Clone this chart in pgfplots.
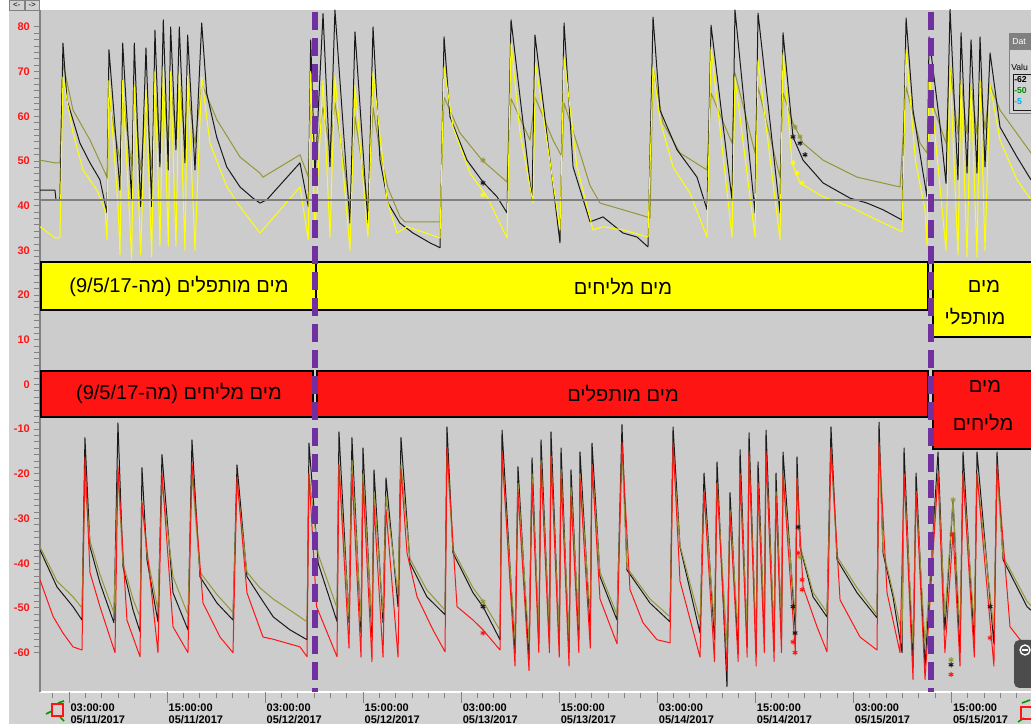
\documentclass[border=0pt]{standalone}
\usepackage{fontspec}
\setmainfont{Liberation Sans}
\newfontfamily\hebfont[Script=Hebrew]{Liberation Sans}
\TeXXeTstate=1
\usepackage{pgfplots}
\pgfplotsset{compat=1.18}

\definecolor{plotgray}{RGB}{204,204,204}
\definecolor{panelgray}{RGB}{210,210,210}
\definecolor{blk}{RGB}{25,25,25}
\definecolor{oliv}{RGB}{150,150,55}
\definecolor{yel}{RGB}{255,255,0}
\definecolor{rd}{RGB}{255,20,20}
\definecolor{purp}{RGB}{112,48,160}
\definecolor{tickgray}{RGB}{130,130,130}
\definecolor{hline}{RGB}{128,128,128}

\newcommand{\tfont}{\fontsize{8.25}{8.7}\selectfont\bfseries}
\newcommand{\hfont}{\hebfont\fontsize{15}{18}\selectfont}

\begin{document}
\begin{tikzpicture}
\useasboundingbox (-30pt,-24pt) rectangle (743.25pt,519pt);
\clip (-30pt,-24pt) rectangle (743.25pt,519pt);
% window frame, in screen pixels from the top-left corner
\begin{scope}[x=0.75pt,y=-0.75pt,shift={(-30pt,519pt)}]
  \fill[panelgray] (0,0) rectangle (1031,724);
  \fill[white] (0,0) rectangle (1031,10);
  \fill[white] (0,0) rectangle (9,724);
\end{scope}

\begin{axis}[
  at={(0,0)}, anchor=south west, scale only axis,
  width=743.25pt, height=511.5pt,
  xmin=-0.55, xmax=120.74, ymin=-68.8, ymax=83.8,
  axis background/.style={fill=plotgray},
  axis lines*=left,
  x axis line style={white, line width=1.5pt},
  y axis line style={tickgray, line width=2pt},
  tick align=outside,
  tick style={tickgray, line width=0.75pt},
  major tick length=4.5pt, minor tick length=4.5pt,
  xtick={1,3,...,119}, xticklabels={},
  extra x ticks={3,15,...,111},
  extra x tick labels={{03:00:00\\05/11/2017},{15:00:00\\05/11/2017},
    {03:00:00\\05/12/2017},{15:00:00\\05/12/2017},{03:00:00\\05/13/2017},
    {15:00:00\\05/13/2017},{03:00:00\\05/14/2017},{15:00:00\\05/14/2017},
    {03:00:00\\05/15/2017},{15:00:00\\05/15/2017}},
  extra x tick style={major tick length=8.25pt,
    tick label style={font=\tfont, anchor=north west, align=left,
      inner sep=0pt, xshift=1pt, yshift=-0.75pt}},
  ytick={-60,-50,...,80},
  yticklabels={-60,-50,-40,-30,-20,-10,0,10,20,30,40,50,60,70,80},
  minor y tick num=6,
  yticklabel style={font=\tfont, text=rd, anchor=east, inner sep=0pt, xshift=-3pt},
  every axis plot/.append style={line width=0.75pt, line join=round},
]

% upper group
\addplot[oliv] coordinates {
(-0.55,50.2) (1.28,49.6) (1.89,49.6) (2.26,71.9) (3.49,61.4) (5.57,54.7) (7.65,46.4)
(7.89,64) (9.24,50) (9.57,64) (10.67,49) (10.99,64) (11.77,48) (12.42,63) (13.12,48)
(13.52,66) (14.13,54) (14.54,67) (15.15,54) (15.44,67) (16.09,56) (16.50,67) (17.19,55)
(17.52,66) (18.42,54) (19.24,67) (19.40,66.6) (21.11,59.2) (23.93,50.9) (26.37,47.3)
(26.74,46.4) (31.27,51.4) (32.29,46.4) (32.58,65) (33.11,50) (34.09,62) (34.94,52)
(35.55,63) (37.39,40) (38.00,60) (39.59,40) (40.21,62) (41.06,52) (42.04,44) (43.51,37.5)
(44.12,36.4) (48.41,36.4) (48.90,64.3) (50.85,56.3) (53.55,50.2) (56.61,45.3) (57.10,64)
(59.42,54.7) (60.03,64.3) (62.24,54.7) (63.34,50.9) (63.59,63) (65.54,51.8) (66.77,44.5)
(67.99,40.6) (70.80,39.1) (74.11,37.3) (74.48,71) (75.70,58.5) (77.78,51.8) (81.09,48.0)
(81.58,65.2) (84.15,54.0) (84.51,69.7) (86.96,51.8) (87.33,66.6) (90.02,46.4) (90.39,65.2)
(91.61,58.5) (92.84,54.0) (95.29,50.2) (99.45,46.4) (104.71,44.2) (105.45,66.6)
(107.16,54.0) (108.01,51.8) (108.26,65) (110.34,54) (110.83,71) (111.80,56) (112.18,68)
(112.91,56) (113.40,67) (114.13,56) (114.50,68) (115.11,57) (115.73,67) (116.95,61.4)
(120.74,51.8)
};
\addplot[blk] coordinates {
(-0.55,43.5) (1.28,43.5) (1.41,41.3) (1.89,41.3) (2.26,76.4) (2.75,63.7) (4.34,54.0)
(5.57,49.6) (6.79,45.8) (7.65,38.4) (7.89,74.9) (9.24,43.5) (9.57,76.4) (10.67,41.3)
(10.99,76.4) (11.77,39.8) (12.42,75.3) (13.12,39.8) (13.52,79.3) (14.13,48.7) (14.54,81.6)
(15.15,48.0) (15.44,80.0) (16.09,52.5) (16.50,80.0) (17.19,49.6) (17.52,78.2) (18.42,48.0)
(19.24,80.9) (19.85,65.2) (21.07,55.4) (22.30,48.7) (23.93,44.2) (25.52,41.7) (26.37,40.6)
(27.19,41.3) (31.27,49.6) (32.29,39.8) (32.58,77.1) (33.11,46.4) (34.09,83.0) (34.94,48.7)
(35.55,83.8) (37.39,36.1) (38.00,78.9) (39.59,36.1) (40.21,80.0) (41.06,50.2) (42.04,40.6)
(43.51,36.1) (45.10,33.9) (47.18,31.7) (48.41,30.6) (48.90,77.8) (49.63,59.9) (51.71,50.2)
(53.67,45.3) (55.39,42.0) (56.61,38.4) (57.10,81.6) (59.67,41.3) (60.03,78.2) (63.09,31.7)
(63.59,80.9) (64.69,48.7) (66.77,36.4) (68.36,37.5) (70.80,33.9) (72.52,33.0) (73.86,30.8)
(74.48,82.2) (75.33,61.4) (77.42,52.5) (79.86,46.4) (81.09,39.1) (81.58,80.4) (84.15,41.3)
(84.51,83.8) (86.96,38.4) (87.33,83.1) (90.02,38.4) (90.39,78.7) (91.61,55.4) (92.84,50.2)
(95.29,45.1) (98.59,41.7) (100.67,40.6) (102.63,39.1) (104.96,36.8) (105.45,82.0)
(106.30,61.4) (107.53,47.3) (108.01,42.0) (108.26,77.8) (109.6,58.0) (110.34,45.0)
(110.83,84.0) (111.80,45.8) (112.18,78.7) (112.91,47.3) (113.40,77.1) (114.13,47.3)
(114.50,77.8) (115.11,48.7) (115.73,74.2) (116.95,57.6) (119.03,50.9) (120.74,45.8)
};
\addplot[yel] coordinates {
(-0.55,35.3) (1.28,32.8) (1.89,32.8) (2.26,68.8) (3.49,56.3) (4.71,48.0) (6.42,43.5)
(7.40,39.1) (7.65,32.4) (7.89,68) (9.0,40) (9.24,29) (9.57,68) (10.67,28) (10.99,67)
(11.77,29) (12.42,66) (13.12,28.5) (13.52,70) (14.13,31) (14.54,71) (15.15,31) (15.44,70)
(16.09,31) (16.50,70) (17.19,30) (17.52,69) (18.42,30) (19.24,68.8) (20.25,54.0)
(22.33,44.2) (23.93,39.8) (26.37,33.9) (31.27,44.2) (32.29,32.4) (32.58,70) (33.11,34)
(34.09,68) (34.94,33) (35.55,69) (37.39,30) (38.00,67) (39.59,33) (40.21,70) (41.92,41.3)
(43.14,33.9) (44.37,35.3) (48.41,32.8) (48.90,71.1) (50.0,57.6) (52.08,47.3) (54.16,42.0)
(56.61,32.8) (57.10,76.4) (58.20,56.3) (59.79,40.6) (60.10,71.9) (63.09,34.6) (63.59,73.3)
(65.17,48.7) (67.13,34.6) (68.36,35.3) (70.80,34.6) (73.86,33.0) (74.48,71.1) (75.33,59.2)
(76.93,48.7) (79.01,42.8) (81.09,33.0) (81.58,75.5) (84.15,33.0) (84.51,68.8) (86.96,33.0)
(87.33,72.6) (90.02,32.4) (90.39,74.2) (91.49,49.6) (92.47,45.1) (95.29,42.0) (98.59,39.8)
(101.89,36.8) (104.96,34.2) (105.45,74.9) (106.6,50) (107.77,39.1) (108.01,31.2)
(108.26,70) (110.34,30) (110.83,71) (111.80,29) (112.18,68) (112.91,28.5) (113.40,67)
(114.13,28.5) (114.50,68) (115.11,30) (115.73,67) (116.95,54.7) (119.03,45.8) (120.74,41.3)
};
\addplot[only marks, mark=asterisk, mark size=2pt, blk] coordinates {
(53.67,45.1) (91.61,55.4) (92.47,54.0) (93.08,51.4)};
\addplot[only marks, mark=asterisk, mark size=2pt, oliv] coordinates {
(53.67,50.2) (91.86,57.6) (92.47,55.4)};
\addplot[only marks, mark=asterisk, mark size=2pt, yel] coordinates {
(53.67,42.4) (91.61,49.6) (92.10,47.3) (92.72,45.1)};

% lower group
\addplot[blk] coordinates {
(-0.55,-37.0) (1.53,-45.3) (3.49,-49.7) (4.59,-52.7) (4.95,-11.9) (5.57,-36.3) (6.79,-44.4)
(8.50,-53.3) (8.99,-8.6) (9.61,-40.8) (10.83,-50.4) (11.69,-55.3) (11.93,-18.6)
(12.54,-39.2) (13.89,-53.1) (14.38,-15.7) (15.73,-46.6) (17.56,-54.9) (18.05,-12.4)
(19.03,-43.0) (21.11,-48.9) (23.07,-52.7) (23.56,-18.0) (24.78,-43.0) (26.37,-47.5)
(28.0,-52.0) (30.05,-54.9) (32.13,-57.1) (32.37,-13.1) (33.5,-40) (35.80,-53)
(36.04,-10.6) (37.27,-53.3) (37.63,-11.9) (38.74,-55.6) (38.98,-14.2) (40.08,-56.5)
(40.33,-19.1) (41.43,-53.3) (41.80,-20.9) (43.27,-49.7) (43.63,-11.9) (44.73,-39.9)
(46.81,-47.5) (49.02,-51.5) (49.26,-9.5) (50.0,-37.7) (52.45,-46.6) (53.67,-49.7)
(55.75,-57.1) (56.00,-10.2) (57.59,-60.0) (57.95,-18.4) (59.30,-61.6) (59.67,-16.4)
(60.5,-58) (60.77,-12.4) (61.8,-57) (61.99,-10.6) (63.0,-58) (63.22,-14.2) (64.2,-60)
(64.44,-19.1) (65.4,-57) (65.54,-15.1) (66.8,-55) (67.01,-13.1) (67.99,-43.0) (70.07,-52.7)
(70.68,-9.0) (71.29,-41.5) (74.11,-48.9) (76.56,-53.1) (76.93,-9.5) (77.78,-36.3)
(80.23,-55.6) (80.72,-19.8) (82.0,-57) (82.31,-17.3) (83.53,-67.6) (83.90,-24.2)
(84.9,-60) (85.13,-14.6) (86.0,-58) (86.23,-10.8) (87.1,-60) (87.33,-17.3) (88.1,-56)
(88.31,-10.2) (89.3,-58) (89.53,-19.8) (90.2,-57) (90.39,-15.1) (91.9,-55) (92.10,-16.2)
(92.47,-36.3) (94.06,-47.5) (95.77,-52.0) (96.26,-9.5) (97.00,-39.2) (99.45,-46.6)
(101.89,-52.2) (102.14,-8.4) (102.63,-37.7) (103.85,-47.5) (104.96,-60.0) (105.20,-14.2)
(106.30,-63.4) (106.67,-19.8) (107.77,-63) (109.36,-15.1) (110.2,-55) (111.20,-25.8)
(112.05,-60) (112.42,-15.1) (113.8,-58) (114.13,-15.1) (116.2,-58) (116.58,-15.1)
(117.32,-39.2) (120.25,-49.7) (120.74,-50.5)
};
\addplot[oliv] coordinates {
(-0.55,-36.3) (1.53,-44) (3.49,-47.5) (4.59,-50.0) (4.95,-22) (5.57,-35) (6.79,-42.5)
(8.50,-51.1) (8.99,-20) (9.61,-40) (10.83,-48) (11.69,-52) (11.93,-26) (12.54,-38)
(13.89,-50.5) (14.38,-22) (15.73,-43) (17.56,-51.5) (18.05,-20) (19.03,-42) (21.11,-47)
(23.07,-51) (23.56,-22) (24.78,-42) (26.37,-45.5) (28.0,-48) (30.05,-50.5) (32.13,-53.1)
(32.37,-20) (33.5,-38) (35.80,-50) (36.04,-18) (37.27,-52) (37.63,-17) (38.74,-53)
(38.98,-20) (40.08,-54) (40.33,-24) (41.43,-51) (41.80,-25) (43.27,-47) (43.63,-18)
(44.73,-39) (46.81,-46) (49.02,-50.5) (49.26,-16) (50.0,-37) (52.45,-45.5) (53.67,-48.5)
(55.75,-55) (56.00,-16) (57.59,-57) (57.95,-22) (59.30,-58) (59.67,-20) (60.5,-55)
(60.77,-17) (61.8,-55) (61.99,-16) (63.0,-56) (63.22,-19) (64.2,-57) (64.44,-23) (65.4,-54)
(65.54,-20) (66.8,-52) (67.01,-18) (67.99,-42) (70.07,-51.5) (70.68,-15) (71.29,-41)
(74.11,-48) (76.56,-52) (76.93,-15) (77.78,-36) (80.23,-53) (80.72,-24) (82.0,-54)
(82.31,-22) (83.53,-58) (83.90,-28) (84.9,-56) (85.13,-20) (86.0,-55) (86.23,-16)
(87.1,-57) (87.33,-22) (88.1,-53) (88.31,-16) (89.3,-55) (89.53,-24) (90.2,-54)
(90.39,-20) (91.9,-52) (92.10,-21) (92.47,-36) (94.06,-46.5) (95.77,-51) (96.26,-15)
(97.00,-38.5) (99.45,-45.5) (101.89,-51.5) (102.14,-14) (102.63,-37) (103.85,-46.5)
(104.96,-56) (105.20,-20) (106.30,-58) (106.67,-24) (107.77,-58) (109.36,-20) (110.2,-52)
(111.20,-25.8) (112.05,-56) (112.42,-20) (113.8,-54) (114.13,-20) (116.2,-55) (116.58,-20)
(117.32,-38.5) (120.25,-48.5) (120.74,-49.5)
};
\addplot[rd] coordinates {
(-0.55,-43.7) (1.05,-51.9) (2.26,-55.6) (3.49,-58.7) (4.59,-59.4) (4.95,-16.2) (5.57,-42.1)
(6.79,-49.7) (8.63,-60.0) (8.99,-18.4) (10.09,-52.7) (11.69,-60.9) (11.93,-26.5)
(13.89,-60.0) (14.38,-19.8) (15.73,-54.2) (17.56,-60.0) (18.05,-17.5) (19.40,-48.9)
(21.48,-56.5) (23.07,-60.0) (23.56,-20.7) (24.78,-46.6) (26.74,-56.5) (28.0,-57)
(31.27,-58.7) (32.13,-60.9) (32.37,-20) (33.3,-49.7) (35.80,-60.9) (36.04,-18) (37.27,-59)
(37.63,-20) (38.74,-61) (38.98,-22) (40.08,-62) (40.33,-27) (41.43,-61) (41.80,-28)
(43.27,-61) (43.63,-19) (44.37,-37.7) (45.6,-47.5) (47.55,-54.9) (49.02,-59.8) (49.26,-14)
(50.49,-49.7) (52.45,-52.7) (53.67,-54.9) (55.75,-59.4) (56.00,-15) (57.59,-63) (57.95,-24)
(59.30,-64) (59.67,-22) (60.5,-60) (60.77,-18) (61.8,-60) (61.99,-16) (63.0,-61) (63.22,-20)
(64.2,-63) (64.44,-25) (65.4,-60) (65.54,-21) (66.8,-59) (67.01,-18) (67.99,-48) (70.07,-58)
(70.68,-13) (71.66,-45.9) (73.25,-53.3) (74.96,-57.1) (76.56,-57.8) (76.93,-13) (77.78,-44)
(80.23,-61) (80.72,-24) (82.0,-62) (82.31,-22) (83.53,-64) (83.90,-29) (84.9,-62)
(85.13,-20) (86.0,-61) (86.23,-15) (87.1,-63) (87.33,-22) (88.1,-60) (88.31,-15) (89.3,-62)
(89.53,-25) (90.2,-60) (90.39,-20) (91.9,-60) (92.10,-21) (92.84,-45.3) (94.55,-54.2)
(95.77,-59.8) (96.26,-14) (97.37,-48.2) (99.81,-56.5) (101.89,-59.4) (102.14,-13)
(103.12,-46.6) (104.71,-60.0) (105.20,-20) (106.30,-66) (106.67,-24) (107.77,-66)
(109.36,-20) (110.2,-60) (111.20,-33) (112.05,-63) (112.42,-20) (113.8,-61) (114.13,-20)
(116.2,-63) (116.58,-18) (118.17,-54.2) (119.40,-57.1) (120.74,-59)
};
\addplot[only marks, mark=asterisk, mark size=2pt, blk] coordinates {
(53.67,-49.7) (91.61,-49.7) (91.86,-55.6) (92.23,-31.9) (110.95,-62.7) (115.73,-49.7)};
\addplot[only marks, mark=asterisk, mark size=2pt, oliv] coordinates {
(53.67,-48.6) (92.47,-38.6) (110.95,-61.6) (111.20,-25.8)};
\addplot[only marks, mark=asterisk, mark size=2pt, rd] coordinates {
(53.67,-55.6) (91.61,-57.6) (91.86,-60) (92.23,-37.7) (92.72,-43.7) (92.72,-45.9)
(110.95,-64.9) (111.07,-33.6) (115.73,-56.7)};

% reference line at 41.3
\draw[hline, line width=1.1pt] (axis cs:-0.55,41.3) -- (axis cs:120.74,41.3);

% period boxes
\draw[fill=yel, line width=1.5pt] (axis cs:-0.43,16.7) rectangle (axis cs:33.23,27.4);
\draw[fill=yel, line width=1.5pt] (axis cs:33.23,16.7) rectangle (axis cs:108.14,27.4);
\draw[fill=yel, line width=1.5pt] (axis cs:108.75,10.65) rectangle (axis cs:125,27.4);
\draw[fill=rd, line width=1.5pt] (axis cs:-0.43,-7.24) rectangle (axis cs:32.87,3.05);
\draw[fill=rd, line width=1.5pt] (axis cs:33.35,-7.24) rectangle (axis cs:108.14,3.05);
\draw[fill=rd, line width=1.5pt] (axis cs:108.75,-14.4) rectangle (axis cs:125,3.05);

\node[font=\hfont, inner sep=0pt] at (axis cs:16.46,21.95) {\beginR מים מותפלים (מה-\beginL 9/5/17\endL)\endR};
\node[font=\hfont, inner sep=0pt] at (axis cs:70.81,21.95) {\beginR מים מליחים\endR};
\node[font=\hfont, inner sep=0pt] at (axis cs:114.99,21.84) {\beginR מים\endR};
\node[font=\hfont, inner sep=0pt] at (axis cs:113.89,15.13) {\beginR מותפלי\endR};
\node[font=\hfont, inner sep=0pt] at (axis cs:16.46,-2.1) {\beginR מים מליחים (מה-\beginL 9/5/17\endL)\endR};
\node[font=\hfont, inner sep=0pt] at (axis cs:70.81,-2.1) {\beginR מים מותפלים\endR};
\node[font=\hfont, inner sep=0pt] at (axis cs:115.11,-0.53) {\beginR מים\endR};
\node[font=\hfont, inner sep=0pt] at (axis cs:114.87,-8.59) {\beginR מליחים\endR};

% change-over markers
\draw[purp, line width=4.5pt, dash pattern=on 13.5pt off 6pt]
  (axis cs:33.11,83.4) -- (axis cs:33.11,-68.8);
\draw[purp, line width=4.5pt, dash pattern=on 13.5pt off 6pt]
  (axis cs:108.51,83.4) -- (axis cs:108.51,-68.8);
\end{axis}

% window widgets
\begin{scope}[x=0.75pt,y=-0.75pt,shift={(-30pt,519pt)}]
  \draw[tickgray, fill=panelgray] (9.5,0.5) rectangle (24,10);
  \draw[tickgray, fill=panelgray] (25,0.5) rectangle (39.5,10);
  \node[font=\fontsize{6}{6}\selectfont, inner sep=0pt] at (16.7,5) {<-};
  \node[font=\fontsize{6}{6}\selectfont, inner sep=0pt] at (32.2,5) {->};
  \draw[green!60!black, line width=1.2pt] (46,714) -- (52,711) (58,703) -- (64,701)
    (60,717) -- (64,721);
  \draw[rd, line width=1.5pt] (52,704) rectangle (63,716);
  \draw[green!60!black, line width=1.2pt] (1022,703) -- (1030,700) (1018,722) -- (1024,718);
  \draw[rd, line width=1.5pt] (1021,707) rectangle (1033,719);
  \fill[gray!60!black, rounded corners=4pt] (1014,640) rectangle (1045,688);
  \draw[white, line width=1pt] (1025,650) circle (5);
  \draw[white, line width=1pt] (1022,650) -- (1028,650);
  \draw[gray, fill=panelgray] (1009,33) rectangle (1045,113);
  \fill[gray] (1010,34) rectangle (1045,50);
  \node[white, font=\fontsize{6.5}{7}\selectfont, anchor=west, inner sep=0pt] at (1012,42) {Dat};
  \node[font=\fontsize{6.5}{7}\selectfont, anchor=west, inner sep=0pt] at (1011,67) {Valu};
  \draw[blk] (1013,74) rectangle (1045,110);
  \node[font=\fontsize{6.5}{7}\selectfont\bfseries, anchor=west, inner sep=0pt] at (1014,80) {-62};
  \node[green!55!black, font=\fontsize{6.5}{7}\selectfont\bfseries, anchor=west, inner sep=0pt] at (1014,91) {-50};
  \node[cyan, font=\fontsize{6.5}{7}\selectfont\bfseries, anchor=west, inner sep=0pt] at (1014,102) {-5};
\end{scope}
\end{tikzpicture}
\end{document}
